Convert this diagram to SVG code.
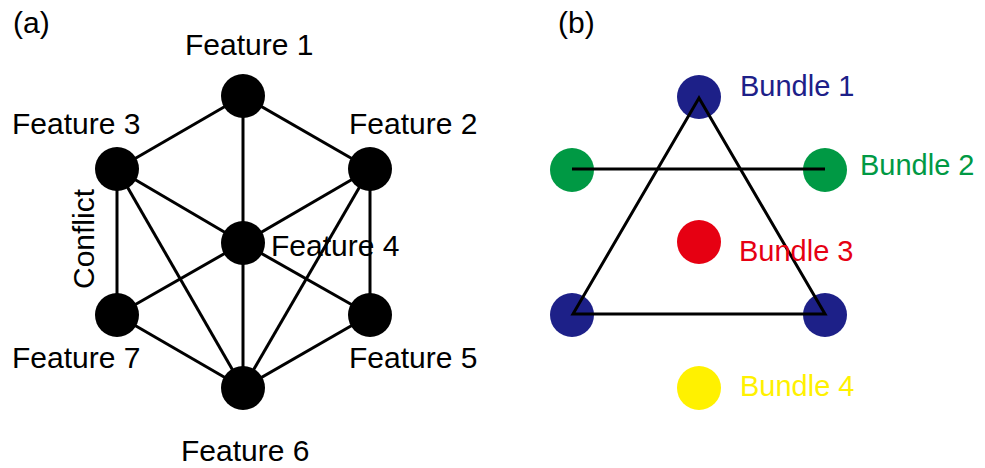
<svg xmlns="http://www.w3.org/2000/svg" width="985" height="468" viewBox="0 0 985 468">
<style>
text{font-family:"Liberation Sans",Arial,sans-serif;font-size:30px;fill:#000}
.b{font-size:29px}
.e{stroke:#000;stroke-width:3;fill:none}
.n{fill:#000}
</style>
<rect width="985" height="468" fill="#fff"/>
<text x="13" y="33">(a)</text>
<text x="558" y="33">(b)</text>
<g id="edges-a">
<line class="e" x1="243" y1="96" x2="117" y2="169"/>
<line class="e" x1="243" y1="96" x2="370" y2="169"/>
<line class="e" x1="243" y1="96" x2="243" y2="243"/>
<line class="e" x1="117" y1="169" x2="243" y2="243"/>
<line class="e" x1="370" y1="169" x2="243" y2="243"/>
<line class="e" x1="117" y1="169" x2="117" y2="315"/>
<line class="e" x1="370" y1="169" x2="370" y2="315"/>
<line class="e" x1="117" y1="169" x2="243" y2="388"/>
<line class="e" x1="370" y1="169" x2="243" y2="388"/>
<line class="e" x1="243" y1="243" x2="117" y2="315"/>
<line class="e" x1="243" y1="243" x2="370" y2="315"/>
<line class="e" x1="243" y1="243" x2="243" y2="388"/>
<line class="e" x1="117" y1="315" x2="243" y2="388"/>
<line class="e" x1="370" y1="315" x2="243" y2="388"/>
</g>
<g id="f1"><circle class="n" cx="243" cy="96" r="22"/><text x="185" y="55">Feature 1</text></g>
<g id="f2"><circle class="n" cx="370" cy="169" r="22"/><text x="349" y="134">Feature 2</text></g>
<g id="f3"><circle class="n" cx="117" cy="169" r="22"/><text x="12" y="134">Feature 3</text></g>
<g id="f4"><circle class="n" cx="243" cy="243" r="22"/><text x="271" y="256">Feature 4</text></g>
<g id="f5"><circle class="n" cx="370" cy="315" r="22"/><text x="349" y="368">Feature 5</text></g>
<g id="f6"><circle class="n" cx="243" cy="388" r="22"/><text x="181" y="461">Feature 6</text></g>
<g id="f7"><circle class="n" cx="117" cy="315" r="22"/><text x="12" y="368">Feature 7</text></g>
<text transform="translate(94,289) rotate(-90)">Conflict</text>
<g id="bundle2-nodes">
<circle cx="572" cy="170" r="22" fill="#009944"/>
<circle cx="825" cy="170" r="22" fill="#009944"/>
</g>
<g id="bundle1-nodes">
<circle cx="699" cy="97" r="22" fill="#1d2088"/>
<circle cx="572" cy="315" r="22" fill="#1d2088"/>
<circle cx="825" cy="315" r="22" fill="#1d2088"/>
</g>
<g id="bundle3-node"><circle cx="699" cy="242" r="22" fill="#e60012"/></g>
<g id="bundle4-node"><circle cx="699" cy="388" r="22" fill="#fff100"/></g>
<g id="edges-b">
<polygon class="e" points="699,98 573,314 825,314"/>
<line class="e" x1="572" y1="169" x2="825" y2="169"/>
</g>
<text class="b" x="740" y="96" style="fill:#1d2088">Bundle 1</text>
<text class="b" x="860" y="175" style="fill:#009944">Bundle 2</text>
<text class="b" x="739" y="261" style="fill:#e60012">Bundle 3</text>
<text class="b" x="740" y="396" style="fill:#fff100">Bundle 4</text>
</svg>
